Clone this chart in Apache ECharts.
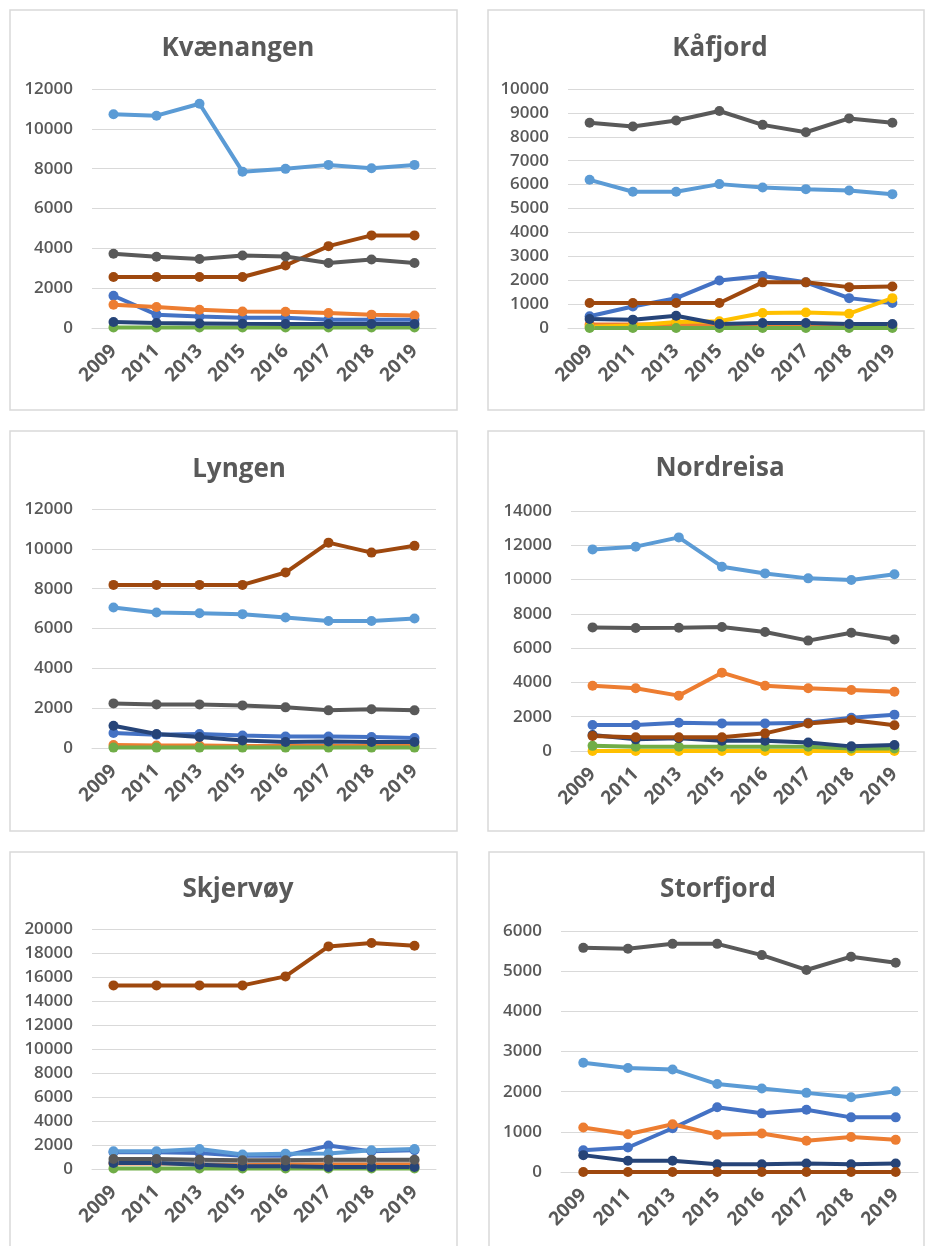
<!DOCTYPE html>
<html>
<head>
<meta charset="utf-8">
<script src="https://cdn.jsdelivr.net/npm/echarts@6/dist/echarts.min.js"></script>
<style>
html,body{margin:0;padding:0;background:#fff;}
#c{width:926px;height:1246px;}
</style>
</head>
<body>
<div id="c"></div>
<script>
// ---------- DATA ----------
const years = ['2009','2011','2013','2015','2016','2017','2018','2019'];
const panelTitles = ['Kvænangen','Kåfjord','Lyngen','Nordreisa','Skjervøy','Storfjord'];
const yMax = [12000, 10000, 12000, 14000, 20000, 6000];
const yStep = [2000, 1000, 2000, 2000, 2000, 1000];

// Kvænangen
const kvaenangenBlue   = [1620, 670, 580, 520, 520, 420, 420, 420];
const kvaenangenOrange = [1170, 1050, 920, 830, 820, 750, 670, 630];
const kvaenangenLightBlue = [10730, 10660, 11260, 7850, 7990, 8190, 8020, 8190];
const kvaenangenGreen  = [30, 30, 30, 30, 30, 30, 30, 30];
const kvaenangenNavy   = [300, 250, 230, 210, 200, 200, 200, 200];
const kvaenangenBrown  = [2560, 2560, 2560, 2560, 3140, 4110, 4650, 4650];
const kvaenangenDarkGray = [3730, 3580, 3460, 3640, 3590, 3260, 3440, 3260];

// Kåfjord
const kafjordBlue   = [490, 900, 1250, 1990, 2180, 1910, 1250, 1050];
const kafjordOrange = [150, 150, 150, 100, 100, 100, 100, 100];
const kafjordYellow = [50, 100, 250, 280, 630, 650, 600, 1250];
const kafjordLightBlue = [6200, 5700, 5700, 6020, 5880, 5810, 5750, 5600];
const kafjordGreen  = [0, 0, 0, 0, 0, 0, 0, 0];
const kafjordNavy   = [380, 350, 510, 170, 210, 210, 170, 170];
const kafjordBrown  = [1045, 1045, 1045, 1045, 1910, 1910, 1710, 1740];
const kafjordDarkGray = [8590, 8430, 8680, 9080, 8500, 8190, 8770, 8590];

// Lyngen
const lyngenBlue   = [750, 670, 700, 630, 580, 580, 550, 500];
const lyngenOrange = [150, 120, 120, 100, 100, 100, 100, 100];
const lyngenLightBlue = [7050, 6800, 6770, 6720, 6550, 6380, 6380, 6500];
const lyngenGreen  = [20, 20, 20, 20, 20, 20, 20, 20];
const lyngenNavy   = [1120, 700, 550, 380, 300, 330, 300, 300];
const lyngenBrown  = [8190, 8190, 8190, 8190, 8810, 10310, 9810, 10150];
const lyngenDarkGray = [2240, 2190, 2190, 2140, 2040, 1890, 1950, 1890];

// Nordreisa
const nordreisaBlue   = [1520, 1520, 1650, 1610, 1610, 1650, 1940, 2120];
const nordreisaOrange = [3810, 3660, 3230, 4570, 3810, 3660, 3560, 3460];
const nordreisaYellow = [0, 0, 0, 0, 0, 0, 0, 0];
const nordreisaLightBlue = [11760, 11920, 12460, 10750, 10360, 10070, 9980, 10310];
const nordreisaGreen  = [300, 250, 250, 250, 250, 250, 150, 150];
const nordreisaNavy   = [930, 680, 740, 600, 600, 500, 270, 350];
const nordreisaBrown  = [880, 800, 800, 800, 1030, 1610, 1810, 1500];
const nordreisaDarkGray = [7210, 7180, 7190, 7230, 6940, 6440, 6900, 6510];

// Skjervøy
const skjervoyBlue   = [1390, 1390, 1330, 1110, 1110, 1950, 1470, 1560];
const skjervoyOrange = [450, 450, 450, 400, 400, 400, 400, 400];
const skjervoyGray   = [600, 650, 650, 650, 700, 700, 700, 700];
const skjervoyLightBlue = [1470, 1470, 1670, 1200, 1280, 1300, 1560, 1670];
const skjervoyGreen  = [50, 50, 50, 50, 50, 50, 50, 50];
const skjervoyNavy   = [500, 500, 360, 220, 220, 170, 170, 170];
const skjervoyBrown  = [15300, 15300, 15300, 15300, 16050, 18550, 18830, 18610];
const skjervoyDarkGray = [830, 830, 780, 720, 720, 780, 780, 780];

// Storfjord
const storfjordBlue   = [540, 610, 1090, 1610, 1460, 1550, 1360, 1360];
const storfjordOrange = [1110, 940, 1190, 930, 960, 780, 870, 800];
const storfjordLightBlue = [2720, 2590, 2550, 2190, 2080, 1970, 1860, 2010];
const storfjordNavy   = [420, 280, 280, 190, 190, 210, 190, 210];
const storfjordBrown  = [0, 0, 0, 0, 0, 0, 0, 0];
const storfjordDarkGray = [5580, 5560, 5680, 5680, 5400, 5030, 5360, 5210];

// ---------- STYLE ----------
const COL = {
  blue:'#4472C4', orange:'#ED7D31', gray:'#A5A5A5', yellow:'#FFC000',
  lightBlue:'#5B9BD5', green:'#70AD47', navy:'#264478', brown:'#9E480E', darkGray:'#595959'
};
const panelSeries = [
  [['blue',kvaenangenBlue],['orange',kvaenangenOrange],['lightBlue',kvaenangenLightBlue],['green',kvaenangenGreen],['navy',kvaenangenNavy],['brown',kvaenangenBrown],['darkGray',kvaenangenDarkGray]],
  [['blue',kafjordBlue],['orange',kafjordOrange],['yellow',kafjordYellow],['lightBlue',kafjordLightBlue],['green',kafjordGreen],['navy',kafjordNavy],['brown',kafjordBrown],['darkGray',kafjordDarkGray]],
  [['blue',lyngenBlue],['orange',lyngenOrange],['lightBlue',lyngenLightBlue],['green',lyngenGreen],['navy',lyngenNavy],['brown',lyngenBrown],['darkGray',lyngenDarkGray]],
  [['blue',nordreisaBlue],['orange',nordreisaOrange],['yellow',nordreisaYellow],['lightBlue',nordreisaLightBlue],['green',nordreisaGreen],['navy',nordreisaNavy],['brown',nordreisaBrown],['darkGray',nordreisaDarkGray]],
  [['blue',skjervoyBlue],['orange',skjervoyOrange],['gray',skjervoyGray],['lightBlue',skjervoyLightBlue],['green',skjervoyGreen],['navy',skjervoyNavy],['brown',skjervoyBrown],['darkGray',skjervoyDarkGray]],
  [['blue',storfjordBlue],['orange',storfjordOrange],['lightBlue',storfjordLightBlue],['navy',storfjordNavy],['brown',storfjordBrown],['darkGray',storfjordDarkGray]]
];

const grids = [
  {left:92,  top:89,  width:344, height:239},
  {left:568, top:89,  width:346, height:239},
  {left:92,  top:509, width:344, height:239},
  {left:571, top:511, width:345, height:240},
  {left:92,  top:929, width:344, height:240},
  {left:561, top:931, width:357, height:241}
];
const frames = [
  {x:10, y:10, w:447, h:400},
  {x:488, y:10, w:436, h:400},
  {x:10, y:431, w:447, h:400},
  {x:488, y:431, w:436, h:400},
  {x:10, y:852, w:447, h:420},
  {x:489, y:852, w:435, h:420}
];
const titlePos = [[233,31],[715,31],[234,452],[715,451],[233,872],[713,872]];

const FONT = '"Open Sans", "DejaVu Sans", sans-serif';
const TXT = '#595959';

const option = {
  animation:false,
  backgroundColor:'#fff',
  title: panelTitles.map((t,i)=>({
    text:t, left:titlePos[i][0], top:titlePos[i][1], textAlign:'center',
    textStyle:{fontFamily:FONT, fontSize:26, fontWeight:'bold', color:TXT}
  })),
  graphic: frames.map(f=>({
    type:'rect', shape:{x:f.x, y:f.y, width:f.w, height:f.h},
    style:{fill:'none', stroke:'#d9d9d9', lineWidth:1.5}, silent:true, z:-1
  })),
  grid: grids.map(g=>Object.assign({containLabel:false}, g)),
  xAxis: grids.map((g,i)=>({
    type:'category', gridIndex:i, data:years, boundaryGap:true,
    axisLine:{show:true, lineStyle:{color:'#d9d9d9', width:1}},
    axisTick:{show:false},
    axisLabel:{rotate:45, margin:20, interval:0, fontFamily:FONT, fontSize:19, fontWeight:'bold', color:TXT}
  })),
  yAxis: grids.map((g,i)=>({
    type:'value', gridIndex:i, min:0, max:yMax[i], interval:yStep[i],
    axisLine:{show:false}, axisTick:{show:false},
    splitLine:{lineStyle:{color:'#d9d9d9', width:1}},
    axisLabel:{margin:19, fontFamily:FONT, fontSize:17, fontWeight:600, color:TXT,
      formatter:(v)=>String(v)}
  })),
  series: []
};

panelSeries.forEach((list,i)=>{
  list.forEach(([key,data])=>{
    option.series.push({
      name:key, type:'line', xAxisIndex:i, yAxisIndex:i, data:data,
      symbol:'circle', symbolSize:10,
      lineStyle:{color:COL[key], width:4},
      itemStyle:{color:COL[key]}
    });
  });
});

const chart = echarts.init(document.getElementById('c'), null, {renderer:'canvas'});
chart.setOption(option);
</script>
</body>
</html>
